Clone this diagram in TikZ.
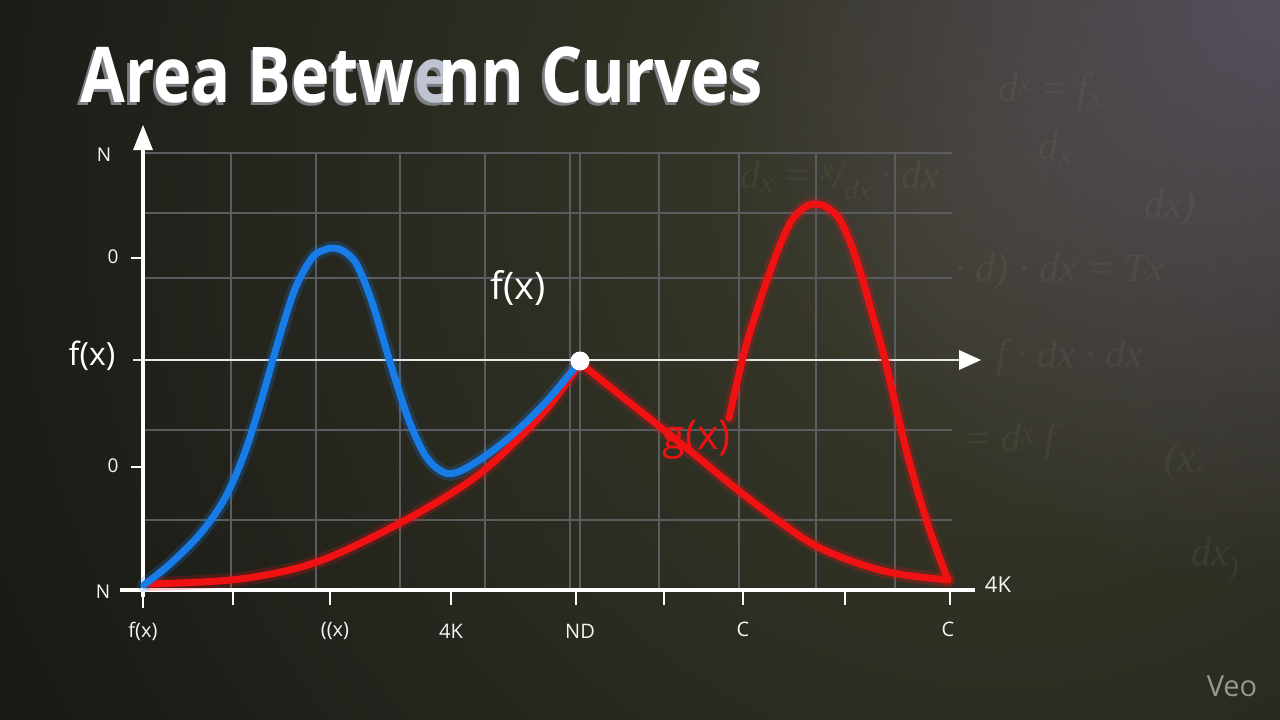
\documentclass[tikz,border=0pt]{standalone}
\usepackage{fontspec}
\setmainfont{Open Sans}
\newfontfamily\faintfont{Liberation Serif}
\usetikzlibrary{fadings}
\tikzfading[name=radfade, inner color=transparent!0, outer color=transparent!100]
\begin{document}
\definecolor{bgc}{RGB}{20,21,19}
\definecolor{olivec}{RGB}{66,66,48}
\definecolor{purplec}{RGB}{100,88,112}
\definecolor{gridc}{RGB}{90,92,96}
\definecolor{fblue}{RGB}{24,124,232}
\definecolor{gred}{RGB}{240,18,18}
\definecolor{shadowc}{RGB}{125,127,133}
\definecolor{ghostc}{RGB}{190,196,210}
\definecolor{faintc}{RGB}{150,152,125}
\definecolor{veoc}{RGB}{150,152,140}
\begin{tikzpicture}[x=1pt,y=-1pt,
  gridline/.style={draw=gridc, line width=1.3pt},
  midaxis/.style={draw=white!82!gray, line width=2pt},
  axisline/.style={draw=white, line width=3.2pt},
  tickmark/.style={draw=white, line width=2.6pt},
  lbl/.style={text=white!93!gray, font=\fontsize{19}{19}\selectfont, inner sep=0pt},
  biglbl/.style={text=white, font=\fontsize{34}{34}\selectfont, inner sep=0pt},
  curve/.style={line width=7pt, line cap=round, line join=round},
  glow/.style={line width=14pt, opacity=0.22, line cap=round, line join=round},
  faint/.style={text=faintc, opacity=0.11, font=\faintfont\itshape\fontsize{40}{40}\selectfont, inner sep=0pt},
  titletext/.style={font=\bfseries\fontsize{77}{77}\selectfont, inner sep=0pt, anchor=base west}
]
\useasboundingbox (0,0) rectangle (1280,720);
% background
\fill[bgc] (0,0) rectangle (1280,720);
\begin{scope}
  \clip (0,0) rectangle (1280,720);
  \fill[olivec, path fading=radfade, opacity=0.9] (1000,190) circle (1250);
  \fill[purplec, path fading=radfade, opacity=0.75] (1290,-10) circle (600);
\end{scope}

% faint background math
\node[faint] (m1) at (1050,92) {d\textsuperscript{x} = f\textsubscript{x}};
\node[faint] (m2) at (1055,148) {d\textsubscript{x}};
\node[faint] (m3) at (840,180) {d\textsubscript{x} = \textsuperscript{x}/\textsubscript{dx} · dx};
\node[faint] (m4) at (1170,208) {dx)};
\node[faint] (m5) at (1060,272) {· d) · dx = Tx};
\node[faint] (m6) at (1070,358) {f · dx · dx};
\node[faint] (m7) at (1010,442) {= d\textsuperscript{x} f};
\node[faint] (m8) at (1185,462) {(x.};
\node[faint] (m9) at (1215,560) {dx\textsubscript{)}};

% grid
\foreach \gx in {231,316,400,485,570,580,659,739,816,895}
  \draw[gridline] (\gx,153) -- (\gx,590);
\foreach \gy in {153,213,278,430,520}
  \draw[gridline] (143,\gy) -- (952,\gy);

% middle axis with arrow
\coordinate (mL) at (133,360);
\coordinate (mR) at (962,360);
\draw[midaxis] (mL) -- (mR);
\fill[white] (959,350) -- (981,360) -- (959,370) -- cycle;

% main axes
\coordinate (O) at (143,590);
\coordinate (yTop) at (143,140);
\coordinate (xL) at (120,590);
\coordinate (xR) at (975,590);
\draw[axisline] (143,597) -- (yTop);
\fill[white] (133,150) -- (143,125) -- (153,150) -- cycle;
\draw[axisline] (xL) -- (xR);
\foreach \tx in {233,330,451,576,664,743,845,950}
  \draw[tickmark] (\tx,590) -- (\tx,605);
\draw[tickmark] (143,590) -- (143,608);
\foreach \ty in {258,467}
  \draw[tickmark] (131,\ty) -- (143,\ty);

% axis labels
\node[lbl] (yN1) at (104,155) {N};
\node[lbl] (y01) at (113,257) {0};
\node[biglbl, font=\fontsize{32}{32}\selectfont] (yfx) at (92,356) {f(x)};
\node[lbl] (y02) at (113,466) {0};
\node[lbl] (yN2) at (103,592) {N};
\node[lbl, font=\fontsize{20}{20}\selectfont] (xl1) at (143,631) {f(x)};
\node[lbl, font=\fontsize{20}{20}\selectfont] (xl2) at (335,631) {((x)};
\node[lbl, font=\fontsize{20}{20}\selectfont] (xl3) at (451,631) {4K};
\node[lbl, font=\fontsize{20}{20}\selectfont] (xl4) at (580,631) {ND};
\node[lbl, font=\fontsize{20}{20}\selectfont] (xl5) at (743,629) {C};
\node[lbl, font=\fontsize{20}{20}\selectfont] (xl6) at (948,629) {C};
\node[lbl, font=\fontsize{22}{22}\selectfont] (x4k) at (998,585) {4K};

% curve data
\def\bluecurve{(144,585) (170,564) (200,534) (225,498) (245,452) (262,398) (278,342) (295,289) (312,258) (324,250) (334,248) (345,252) (357,265) (372,302) (390,362) (408,418) (425,455) (441,471) (455,473) (478,461) (510,437) (545,403) (577,365)}
\def\redlow{(150,584) (240,579) (317,562) (400,523) (470,481) (514,443) (550,405) (580,363)}
\def\redright{(580,363) (620,395) (659,426) (700,459) (739,491) (780,522) (816,546) (860,564) (898,574) (948,580)}
\def\redpeak{(729,418) (744,353) (757,310) (767,280) (780,245) (792,220) (805,207) (816,204) (828,208) (840,220) (852,247) (863,281) (874,320) (885,360) (907,453) (928,525) (948,580)}

% curves: glow
\draw[glow, fblue] plot[smooth, tension=0.55] coordinates {\bluecurve};
\draw[glow, gred] plot[smooth, tension=0.55] coordinates {\redlow};
\draw[glow, gred] plot[smooth, tension=0.55] coordinates {\redright};
\draw[glow, gred] plot[smooth, tension=0.55] coordinates {\redpeak};

% curves
\draw[curve, gred] plot[smooth, tension=0.55] coordinates {\redlow};
\draw[curve, fblue] plot[smooth, tension=0.55] coordinates {\bluecurve};
\draw[curve, gred] plot[smooth, tension=0.55] coordinates {\redright};
\draw[curve, gred] plot[smooth, tension=0.55] coordinates {\redpeak};

% intersection dot
\node[circle, fill=white, inner sep=0pt, minimum size=19pt] (dot) at (580,361) {};

% curve labels
\node[biglbl, font=\fontsize{38}{38}\selectfont] (flab) at (518,288) {f(x)};
\node[biglbl, text=gred, font=\fontsize{41}{41}\selectfont] (glab) at (697,440) {g(x)};

% title with shadow (single node)
\node[titletext, text=white] (title) at (80,102) {\scalebox{0.845}[1]{\makebox[0pt][l]{\hspace{-3pt}\raisebox{-3pt}{\textcolor{shadowc}{Area Betw\makebox[0.38em][l]{e}nn Curves}}}Area Betw\makebox[0.38em][l]{\textcolor{ghostc}{e}}nn Curves}};

% watermark
\node[text=veoc, font=\fontsize{29}{29}\selectfont, inner sep=0pt] (veo) at (1232,686) {Veo};
\end{tikzpicture}
\end{document}
